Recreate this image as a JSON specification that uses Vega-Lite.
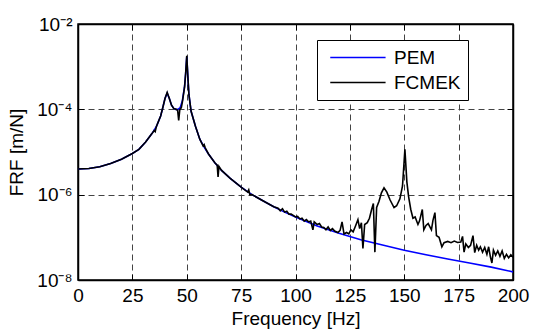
{
  "$schema": "https://vega.github.io/schema/vega-lite/v6.json",
  "autosize": {"type": "none"},
  "width": 435,
  "height": 256,
  "padding": {"left": 78, "top": 24, "right": 20, "bottom": 56},
  "background": "white",
  "config": {
    "font": "Liberation Sans",
    "view": {"stroke": "black", "strokeWidth": 1.5},
    "axis": {
      "labelFont": "Liberation Sans",
      "titleFont": "Liberation Sans",
      "labelFontSize": 19,
      "titleFontSize": 19,
      "titleFontWeight": "normal",
      "labelColor": "black",
      "titleColor": "black",
      "domainColor": "black",
      "domainWidth": 1.5,
      "tickColor": "black",
      "tickWidth": 1,
      "tickSize": -6,
      "gridColor": "#444444",
      "gridDash": [6, 4],
      "gridWidth": 1,
      "gridOpacity": 1
    },
    "legend": {
      "labelFont": "Liberation Sans",
      "labelFontSize": 19,
      "labelColor": "black"
    }
  },
  "data": {
    "values": [
      {"f": 0, "v": 4.0e-6, "s": "PEM"},
      {"f": 5, "v": 4.1e-6, "s": "PEM"},
      {"f": 10, "v": 4.5e-6, "s": "PEM"},
      {"f": 15, "v": 5.4e-6, "s": "PEM"},
      {"f": 20, "v": 6.8e-6, "s": "PEM"},
      {"f": 25, "v": 9.2e-6, "s": "PEM"},
      {"f": 28, "v": 1.15e-5, "s": "PEM"},
      {"f": 31, "v": 1.7e-5, "s": "PEM"},
      {"f": 34, "v": 2.7e-5, "s": "PEM"},
      {"f": 36, "v": 3.9e-5, "s": "PEM"},
      {"f": 38, "v": 7e-5, "s": "PEM"},
      {"f": 39, "v": 1.1e-4, "s": "PEM"},
      {"f": 40, "v": 1.8e-4, "s": "PEM"},
      {"f": 41, "v": 2.4e-4, "s": "PEM"},
      {"f": 42, "v": 1.8e-4, "s": "PEM"},
      {"f": 43, "v": 1.25e-4, "s": "PEM"},
      {"f": 44, "v": 1.05e-4, "s": "PEM"},
      {"f": 45, "v": 1.0e-4, "s": "PEM"},
      {"f": 46, "v": 1.0e-4, "s": "PEM"},
      {"f": 47, "v": 1.1e-4, "s": "PEM"},
      {"f": 48, "v": 1.6e-4, "s": "PEM"},
      {"f": 49, "v": 3.5e-4, "s": "PEM"},
      {"f": 49.5, "v": 7e-4, "s": "PEM"},
      {"f": 50, "v": 1.7e-3, "s": "PEM"},
      {"f": 50.5, "v": 6e-4, "s": "PEM"},
      {"f": 51, "v": 2.2e-4, "s": "PEM"},
      {"f": 52, "v": 9e-5, "s": "PEM"},
      {"f": 54, "v": 4e-5, "s": "PEM"},
      {"f": 56, "v": 2e-5, "s": "PEM"},
      {"f": 58, "v": 1.3e-5, "s": "PEM"},
      {"f": 60, "v": 9e-6, "s": "PEM"},
      {"f": 63, "v": 5.5e-6, "s": "PEM"},
      {"f": 66, "v": 3.7e-6, "s": "PEM"},
      {"f": 70, "v": 2.4e-6, "s": "PEM"},
      {"f": 75, "v": 1.5e-6, "s": "PEM"},
      {"f": 80, "v": 1.0e-6, "s": "PEM"},
      {"f": 85, "v": 7.2e-7, "s": "PEM"},
      {"f": 90, "v": 5.2e-7, "s": "PEM"},
      {"f": 95, "v": 3.9e-7, "s": "PEM"},
      {"f": 100, "v": 3.0e-7, "s": "PEM"},
      {"f": 110, "v": 1.85e-7, "s": "PEM"},
      {"f": 120, "v": 1.25e-7, "s": "PEM"},
      {"f": 130, "v": 8.8e-8, "s": "PEM"},
      {"f": 140, "v": 6.6e-8, "s": "PEM"},
      {"f": 150, "v": 5.0e-8, "s": "PEM"},
      {"f": 160, "v": 3.9e-8, "s": "PEM"},
      {"f": 170, "v": 3.1e-8, "s": "PEM"},
      {"f": 180, "v": 2.5e-8, "s": "PEM"},
      {"f": 190, "v": 2.0e-8, "s": "PEM"},
      {"f": 200, "v": 1.55e-8, "s": "PEM"},

      {"f": 0, "v": 4.0e-6, "s": "FCMEK"},
      {"f": 5, "v": 4.1e-6, "s": "FCMEK"},
      {"f": 10, "v": 4.5e-6, "s": "FCMEK"},
      {"f": 15, "v": 5.4e-6, "s": "FCMEK"},
      {"f": 20, "v": 6.8e-6, "s": "FCMEK"},
      {"f": 25, "v": 9.2e-6, "s": "FCMEK"},
      {"f": 28, "v": 1.15e-5, "s": "FCMEK"},
      {"f": 31, "v": 1.7e-5, "s": "FCMEK"},
      {"f": 34, "v": 2.7e-5, "s": "FCMEK"},
      {"f": 35, "v": 3.2e-5, "s": "FCMEK"},
      {"f": 35.5, "v": 3.0e-5, "s": "FCMEK"},
      {"f": 36, "v": 3.9e-5, "s": "FCMEK"},
      {"f": 38, "v": 7e-5, "s": "FCMEK"},
      {"f": 39, "v": 1.1e-4, "s": "FCMEK"},
      {"f": 40, "v": 1.8e-4, "s": "FCMEK"},
      {"f": 41, "v": 2.5e-4, "s": "FCMEK"},
      {"f": 42, "v": 1.8e-4, "s": "FCMEK"},
      {"f": 43, "v": 1.25e-4, "s": "FCMEK"},
      {"f": 44, "v": 1.05e-4, "s": "FCMEK"},
      {"f": 45, "v": 1.0e-4, "s": "FCMEK"},
      {"f": 45.8, "v": 9.5e-5, "s": "FCMEK"},
      {"f": 46.3, "v": 5.5e-5, "s": "FCMEK"},
      {"f": 46.8, "v": 9.8e-5, "s": "FCMEK"},
      {"f": 47.5, "v": 1.1e-4, "s": "FCMEK"},
      {"f": 48, "v": 1.5e-4, "s": "FCMEK"},
      {"f": 49, "v": 3.3e-4, "s": "FCMEK"},
      {"f": 49.5, "v": 7e-4, "s": "FCMEK"},
      {"f": 50, "v": 1.8e-3, "s": "FCMEK"},
      {"f": 50.5, "v": 6e-4, "s": "FCMEK"},
      {"f": 51, "v": 2.2e-4, "s": "FCMEK"},
      {"f": 52, "v": 9e-5, "s": "FCMEK"},
      {"f": 54, "v": 4e-5, "s": "FCMEK"},
      {"f": 56, "v": 2e-5, "s": "FCMEK"},
      {"f": 57.5, "v": 1.4e-5, "s": "FCMEK"},
      {"f": 58, "v": 1.5e-5, "s": "FCMEK"},
      {"f": 58.5, "v": 1.25e-5, "s": "FCMEK"},
      {"f": 60, "v": 9e-6, "s": "FCMEK"},
      {"f": 63, "v": 5.5e-6, "s": "FCMEK"},
      {"f": 64, "v": 4.9e-6, "s": "FCMEK"},
      {"f": 64.4, "v": 2.6e-6, "s": "FCMEK"},
      {"f": 64.8, "v": 4.6e-6, "s": "FCMEK"},
      {"f": 66, "v": 3.7e-6, "s": "FCMEK"},
      {"f": 70, "v": 2.4e-6, "s": "FCMEK"},
      {"f": 75, "v": 1.5e-6, "s": "FCMEK"},
      {"f": 78, "v": 1.15e-6, "s": "FCMEK"},
      {"f": 78.5, "v": 1.3e-6, "s": "FCMEK"},
      {"f": 79, "v": 1.0e-6, "s": "FCMEK"},
      {"f": 80, "v": 1.0e-6, "s": "FCMEK"},
      {"f": 85, "v": 7.2e-7, "s": "FCMEK"},
      {"f": 90, "v": 5.2e-7, "s": "FCMEK"},
      {"f": 92, "v": 4.8e-7, "s": "FCMEK"},
      {"f": 93, "v": 4.2e-7, "s": "FCMEK"},
      {"f": 94, "v": 4.7e-7, "s": "FCMEK"},
      {"f": 95, "v": 3.9e-7, "s": "FCMEK"},
      {"f": 96, "v": 4.1e-7, "s": "FCMEK"},
      {"f": 97, "v": 3.5e-7, "s": "FCMEK"},
      {"f": 98, "v": 3.5e-7, "s": "FCMEK"},
      {"f": 100, "v": 3.0e-7, "s": "FCMEK"},
      {"f": 101, "v": 3.1e-7, "s": "FCMEK"},
      {"f": 102, "v": 2.7e-7, "s": "FCMEK"},
      {"f": 103, "v": 2.8e-7, "s": "FCMEK"},
      {"f": 104, "v": 2.4e-7, "s": "FCMEK"},
      {"f": 105, "v": 2.6e-7, "s": "FCMEK"},
      {"f": 106, "v": 2.3e-7, "s": "FCMEK"},
      {"f": 107, "v": 2.4e-7, "s": "FCMEK"},
      {"f": 108, "v": 1.5e-7, "s": "FCMEK"},
      {"f": 108.6, "v": 2.3e-7, "s": "FCMEK"},
      {"f": 110, "v": 2.0e-7, "s": "FCMEK"},
      {"f": 111, "v": 2.1e-7, "s": "FCMEK"},
      {"f": 112, "v": 1.75e-7, "s": "FCMEK"},
      {"f": 113, "v": 1.7e-7, "s": "FCMEK"},
      {"f": 114, "v": 1.5e-7, "s": "FCMEK"},
      {"f": 115, "v": 1.75e-7, "s": "FCMEK"},
      {"f": 116, "v": 1.45e-7, "s": "FCMEK"},
      {"f": 117, "v": 1.6e-7, "s": "FCMEK"},
      {"f": 118, "v": 1.4e-7, "s": "FCMEK"},
      {"f": 119.5, "v": 1.3e-7, "s": "FCMEK"},
      {"f": 120.5, "v": 1.45e-7, "s": "FCMEK"},
      {"f": 121.4, "v": 2.3e-7, "s": "FCMEK"},
      {"f": 122.3, "v": 1.2e-7, "s": "FCMEK"},
      {"f": 123.5, "v": 1.3e-7, "s": "FCMEK"},
      {"f": 124.5, "v": 1.2e-7, "s": "FCMEK"},
      {"f": 125.5, "v": 1.5e-7, "s": "FCMEK"},
      {"f": 126.5, "v": 1.35e-7, "s": "FCMEK"},
      {"f": 127.5, "v": 1.8e-7, "s": "FCMEK"},
      {"f": 128.7, "v": 2.6e-7, "s": "FCMEK"},
      {"f": 129.5, "v": 1.6e-7, "s": "FCMEK"},
      {"f": 130.3, "v": 2.2e-7, "s": "FCMEK"},
      {"f": 131, "v": 5.5e-8, "s": "FCMEK"},
      {"f": 131.8, "v": 2.0e-7, "s": "FCMEK"},
      {"f": 133, "v": 2.2e-7, "s": "FCMEK"},
      {"f": 134, "v": 2.8e-7, "s": "FCMEK"},
      {"f": 135, "v": 4.5e-7, "s": "FCMEK"},
      {"f": 135.8, "v": 6.2e-7, "s": "FCMEK"},
      {"f": 136.5, "v": 4.5e-8, "s": "FCMEK"},
      {"f": 137.3, "v": 5.0e-7, "s": "FCMEK"},
      {"f": 138.4, "v": 7.0e-7, "s": "FCMEK"},
      {"f": 139.5, "v": 1.1e-6, "s": "FCMEK"},
      {"f": 140.7, "v": 1.45e-6, "s": "FCMEK"},
      {"f": 142, "v": 1.15e-6, "s": "FCMEK"},
      {"f": 143.5, "v": 7.5e-7, "s": "FCMEK"},
      {"f": 145.3, "v": 5.0e-7, "s": "FCMEK"},
      {"f": 146.5, "v": 5.5e-7, "s": "FCMEK"},
      {"f": 148, "v": 8.0e-7, "s": "FCMEK"},
      {"f": 149.2, "v": 1.6e-6, "s": "FCMEK"},
      {"f": 150.3, "v": 1.15e-5, "s": "FCMEK"},
      {"f": 151.2, "v": 2.0e-6, "s": "FCMEK"},
      {"f": 152, "v": 9.0e-7, "s": "FCMEK"},
      {"f": 153, "v": 4.5e-7, "s": "FCMEK"},
      {"f": 154, "v": 2.8e-7, "s": "FCMEK"},
      {"f": 155, "v": 3.0e-7, "s": "FCMEK"},
      {"f": 156.3, "v": 2.0e-7, "s": "FCMEK"},
      {"f": 157, "v": 2.4e-7, "s": "FCMEK"},
      {"f": 158.3, "v": 4.5e-7, "s": "FCMEK"},
      {"f": 159, "v": 1.5e-7, "s": "FCMEK"},
      {"f": 160, "v": 1.9e-7, "s": "FCMEK"},
      {"f": 161, "v": 2.1e-7, "s": "FCMEK"},
      {"f": 162.5, "v": 1.5e-7, "s": "FCMEK"},
      {"f": 163.2, "v": 2.5e-7, "s": "FCMEK"},
      {"f": 164.1, "v": 3.8e-7, "s": "FCMEK"},
      {"f": 164.8, "v": 1.1e-7, "s": "FCMEK"},
      {"f": 166, "v": 1.0e-7, "s": "FCMEK"},
      {"f": 167.3, "v": 6.0e-8, "s": "FCMEK"},
      {"f": 168.3, "v": 7.5e-8, "s": "FCMEK"},
      {"f": 170, "v": 8.0e-8, "s": "FCMEK"},
      {"f": 171.5, "v": 7.5e-8, "s": "FCMEK"},
      {"f": 173, "v": 8.2e-8, "s": "FCMEK"},
      {"f": 174.5, "v": 7.6e-8, "s": "FCMEK"},
      {"f": 176, "v": 7.8e-8, "s": "FCMEK"},
      {"f": 176.8, "v": 1.05e-7, "s": "FCMEK"},
      {"f": 177.5, "v": 4.5e-8, "s": "FCMEK"},
      {"f": 178.3, "v": 7.0e-8, "s": "FCMEK"},
      {"f": 179.5, "v": 5.8e-8, "s": "FCMEK"},
      {"f": 180.5, "v": 6.5e-8, "s": "FCMEK"},
      {"f": 181.6, "v": 1.1e-7, "s": "FCMEK"},
      {"f": 182.4, "v": 4.4e-8, "s": "FCMEK"},
      {"f": 183.3, "v": 6.5e-8, "s": "FCMEK"},
      {"f": 184.2, "v": 5.0e-8, "s": "FCMEK"},
      {"f": 185, "v": 6.0e-8, "s": "FCMEK"},
      {"f": 186, "v": 4.5e-8, "s": "FCMEK"},
      {"f": 187, "v": 5.8e-8, "s": "FCMEK"},
      {"f": 188, "v": 4.0e-8, "s": "FCMEK"},
      {"f": 188.8, "v": 6.0e-8, "s": "FCMEK"},
      {"f": 189.6, "v": 3.5e-8, "s": "FCMEK"},
      {"f": 190.3, "v": 2.5e-8, "s": "FCMEK"},
      {"f": 191, "v": 5.0e-8, "s": "FCMEK"},
      {"f": 192, "v": 3.8e-8, "s": "FCMEK"},
      {"f": 193, "v": 4.8e-8, "s": "FCMEK"},
      {"f": 194, "v": 3.6e-8, "s": "FCMEK"},
      {"f": 195, "v": 4.8e-8, "s": "FCMEK"},
      {"f": 196, "v": 3.2e-8, "s": "FCMEK"},
      {"f": 197, "v": 4.0e-8, "s": "FCMEK"},
      {"f": 198, "v": 3.3e-8, "s": "FCMEK"},
      {"f": 199, "v": 3.9e-8, "s": "FCMEK"},
      {"f": 200, "v": 3.4e-8, "s": "FCMEK"}
    ]
  },
  "layer": [
    {
      "transform": [{"filter": "datum.s == 'PEM'"}],
      "mark": {"type": "line", "strokeWidth": 1.6, "clip": true},
      "encoding": {
        "x": {
          "field": "f", "type": "quantitative",
          "scale": {"domain": [0, 200], "nice": false},
          "axis": {"orient": "bottom", "values": [0, 25, 50, 75, 100, 125, 150, 175, 200], "title": "Frequency [Hz]", "labelPadding": 12, "titlePadding": 4, "grid": true, "labelFlush": false, "labelOverlap": false}
        },
        "y": {
          "field": "v", "type": "quantitative",
          "scale": {"type": "log", "domain": [1e-8, 1e-2], "nice": false},
          "axis": {"orient": "left", "values": [1e-8, 1e-6, 1e-4, 1e-2], "title": "FRF [m/N]", "labelPadding": 12, "titlePadding": 10, "grid": true, "labelFlush": false, "labelOverlap": false,
            "labelExpr": "datum.value < 1e-7 ? '10⁻⁸' : datum.value < 1e-5 ? '10⁻⁶' : datum.value < 1e-3 ? '10⁻⁴' : '10⁻²'"}
        },
        "color": {
          "field": "s", "type": "nominal",
          "scale": {"domain": ["PEM", "FCMEK"], "range": ["#0000ff", "#000000"]},
          "legend": {"title": null, "orient": "none", "legendX": 239, "legendY": 16, "symbolType": "M-0.46,0H5.54", "symbolSize": 340, "symbolStrokeWidth": 1.6, "strokeColor": "black", "fillColor": "white", "padding": 7, "rowPadding": 4, "labelOffset": 49}
        }
      }
    },
    {
      "transform": [{"filter": "datum.s == 'FCMEK'"}],
      "mark": {"type": "line", "strokeWidth": 1.6, "clip": true},
      "encoding": {
        "x": {
          "field": "f", "type": "quantitative",
          "axis": {"orient": "top", "values": [0, 25, 50, 75, 100, 125, 150, 175, 200], "title": null, "labels": false, "grid": false}
        },
        "y": {
          "field": "v", "type": "quantitative",
          "axis": {"orient": "right", "values": [1e-8, 1e-6, 1e-4, 1e-2], "title": null, "labels": false, "grid": false}
        },
        "color": {"field": "s", "type": "nominal"}
      }
    }
  ],
  "resolve": {"axis": {"x": "independent", "y": "independent"}}
}
